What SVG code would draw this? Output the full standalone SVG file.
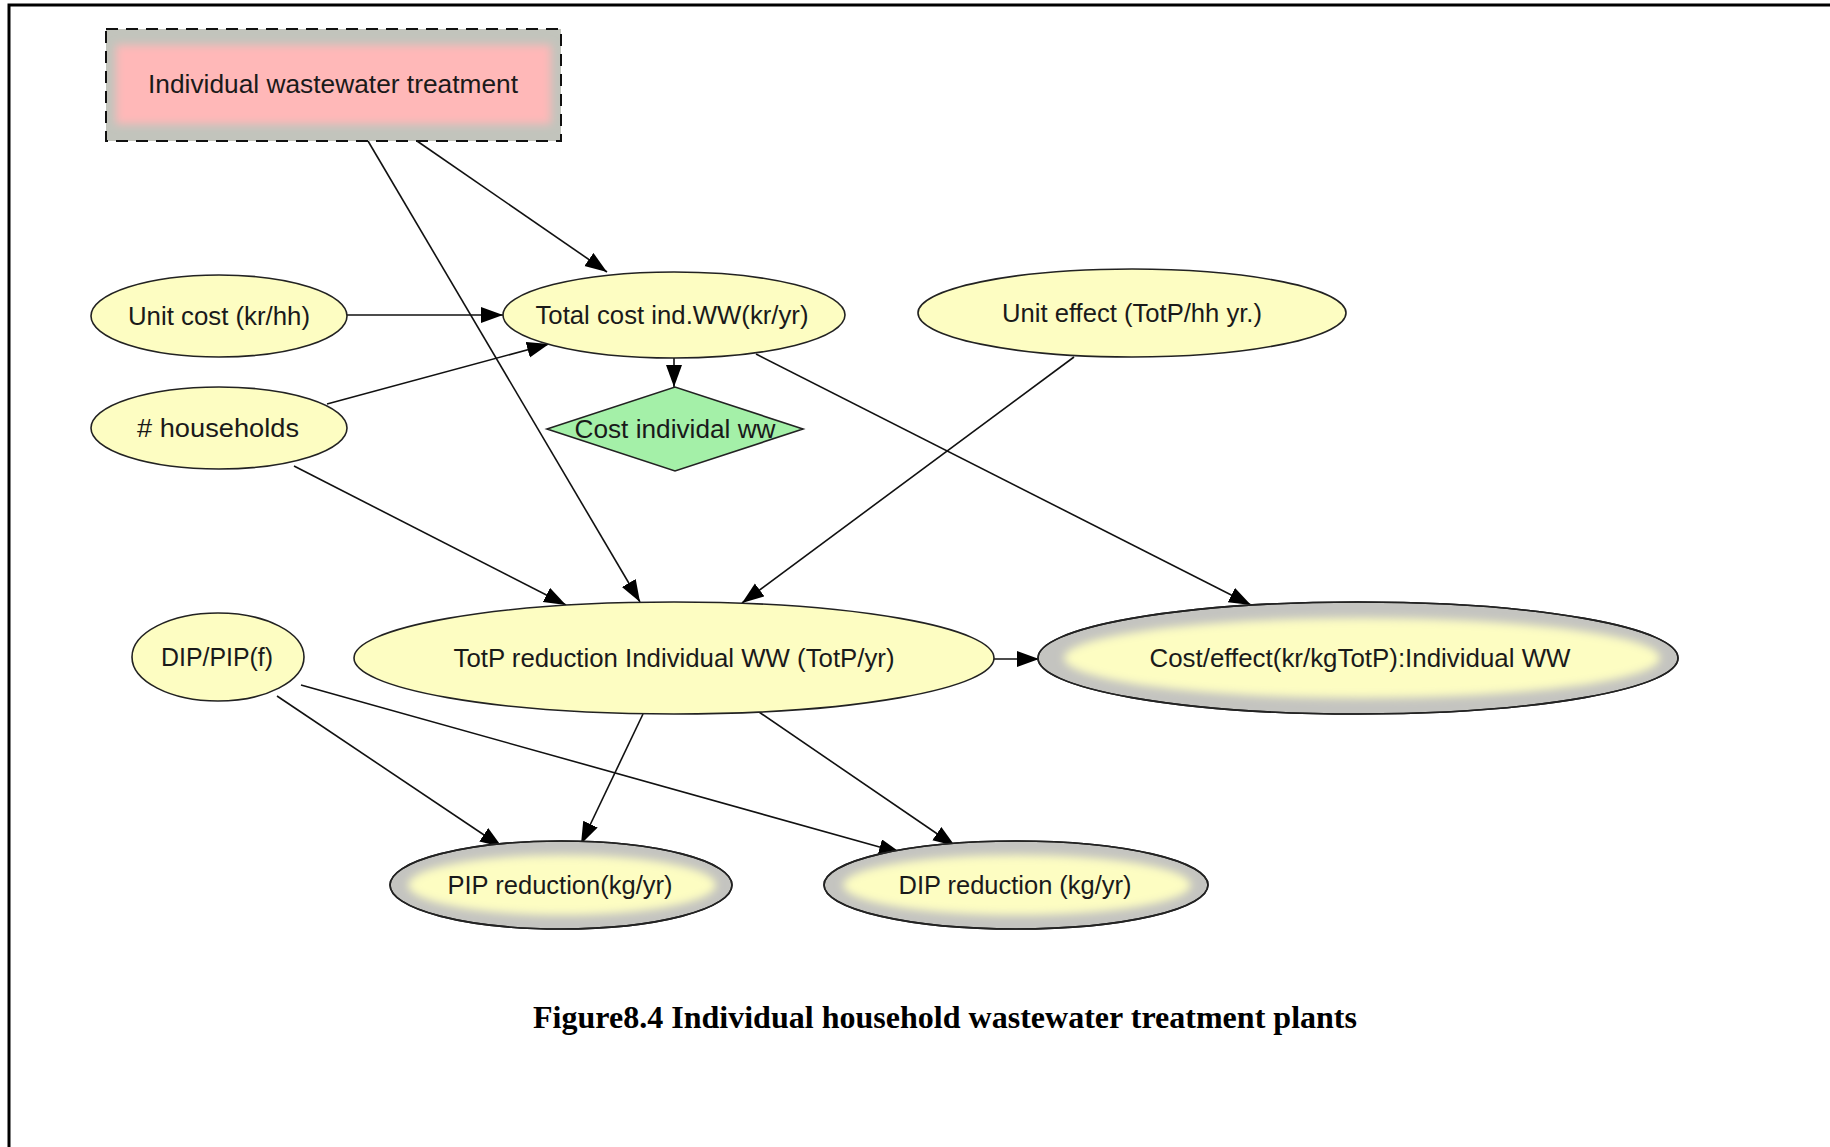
<svg xmlns="http://www.w3.org/2000/svg" width="1830" height="1147" viewBox="0 0 1830 1147">
<style>
.lbl{font-family:"Liberation Sans",Arial,sans-serif;font-size:26px;fill:#1a1a1a;text-anchor:middle}
.cap{font-family:"Liberation Serif","Times New Roman",serif;font-size:32px;font-weight:bold;fill:#000;text-anchor:middle}
.yel{fill:#fdfdc2;stroke:#222;stroke-width:1.6}
.grayo{fill:#c4c4c0;stroke:#222;stroke-width:1.6}
.yin{fill:#fdfdc2;stroke:none}
.edge{stroke:#111;stroke-width:1.6;fill:none;marker-end:url(#ah)}
</style>
<defs>
<marker id="ah" markerUnits="userSpaceOnUse" markerWidth="24" markerHeight="18" refX="22" refY="8" orient="auto">
<path d="M0,0 L22,8 L0,16 z" fill="#000"/>
</marker>
<filter id="soft" x="-10%" y="-30%" width="120%" height="160%"><feGaussianBlur stdDeviation="4"/></filter>
</defs>
<rect x="0" y="0" width="1830" height="1147" fill="#fff"/>
<path d="M9,1147 V5 H1830" fill="none" stroke="#000" stroke-width="3"/>

<g id="connectors">
<line class="edge" x1="417" y1="141" x2="607" y2="272"/>
<line class="edge" x1="368" y1="141" x2="640" y2="602"/>
<line class="edge" x1="347" y1="315" x2="503" y2="315"/>
<line class="edge" x1="327" y1="404" x2="549" y2="344"/>
<line class="edge" x1="674" y1="358" x2="674" y2="387"/>
<line class="edge" x1="756" y1="354" x2="1251" y2="605"/>
<line class="edge" x1="1074" y1="357" x2="742" y2="603"/>
<line class="edge" x1="294" y1="466" x2="566" y2="605"/>
<line class="edge" x1="994" y1="659" x2="1039" y2="659"/>
<line class="edge" x1="277" y1="696" x2="502" y2="847"/>
<line class="edge" x1="301" y1="685" x2="901" y2="853"/>
<line class="edge" x1="643" y1="714" x2="581" y2="844"/>
<line class="edge" x1="759" y1="712" x2="955" y2="846"/>
</g>

<g id="n-iwt">
<rect x="106" y="29" width="455" height="112" fill="#c2c4bc"/>
<rect x="116" y="45" width="435" height="79" fill="#ffb8b8" filter="url(#soft)"/>
<rect x="106" y="29" width="455" height="112" fill="none" stroke="#111" stroke-width="2" stroke-dasharray="12,8"/>
<text class="lbl" x="333" y="93" textLength="370" lengthAdjust="spacingAndGlyphs">Individual wastewater treatment</text>
</g>

<g id="n-unitcost">
<ellipse class="yel" cx="219" cy="316" rx="128" ry="41"/>
<text class="lbl" x="219" y="325" textLength="182" lengthAdjust="spacingAndGlyphs">Unit cost (kr/hh)</text>
</g>

<g id="n-households">
<ellipse class="yel" cx="219" cy="428" rx="128" ry="41"/>
<text class="lbl" x="218" y="437" textLength="162" lengthAdjust="spacingAndGlyphs"># households</text>
</g>

<g id="n-totalcost">
<ellipse class="yel" cx="674" cy="315" rx="171" ry="43"/>
<text class="lbl" x="672" y="324" textLength="273" lengthAdjust="spacingAndGlyphs">Total cost ind.WW(kr/yr)</text>
</g>

<g id="n-costind">
<polygon points="547,429 675,387 803,429 675,471" fill="#a4f0a8" stroke="#222" stroke-width="1.6"/>
<text class="lbl" x="675" y="438" textLength="201" lengthAdjust="spacingAndGlyphs">Cost individal ww</text>
</g>

<g id="n-uniteffect">
<ellipse class="yel" cx="1132" cy="313" rx="214" ry="44"/>
<text class="lbl" x="1132" y="322" textLength="260" lengthAdjust="spacingAndGlyphs">Unit effect (TotP/hh yr.)</text>
</g>

<g id="n-dippip">
<ellipse class="yel" cx="218" cy="657" rx="86" ry="44"/>
<text class="lbl" x="217" y="666" textLength="112" lengthAdjust="spacingAndGlyphs">DIP/PIP(f)</text>
</g>

<g id="n-totp">
<ellipse class="yel" cx="674" cy="658" rx="320" ry="56"/>
<text class="lbl" x="674" y="667" textLength="441" lengthAdjust="spacingAndGlyphs">TotP reduction Individual WW (TotP/yr)</text>
</g>

<g id="n-costeffect">
<ellipse class="grayo" cx="1358" cy="658" rx="320" ry="56"/>
<ellipse class="yin" cx="1362" cy="658" rx="298" ry="40" filter="url(#soft)"/>
<ellipse cx="1358" cy="658" rx="320" ry="56" fill="none" stroke="#222" stroke-width="1.6"/>
<text class="lbl" x="1360" y="667" textLength="421" lengthAdjust="spacingAndGlyphs">Cost/effect(kr/kgTotP):Individual WW</text>
</g>

<g id="n-pip">
<ellipse class="grayo" cx="561" cy="885" rx="171" ry="44"/>
<ellipse class="yin" cx="562" cy="885" rx="154" ry="30" filter="url(#soft)"/>
<ellipse cx="561" cy="885" rx="171" ry="44" fill="none" stroke="#222" stroke-width="1.6"/>
<text class="lbl" x="560" y="894" textLength="225" lengthAdjust="spacingAndGlyphs">PIP reduction(kg/yr)</text>
</g>

<g id="n-dip">
<ellipse class="grayo" cx="1016" cy="885" rx="192" ry="44"/>
<ellipse class="yin" cx="1017" cy="885" rx="174" ry="30" filter="url(#soft)"/>
<ellipse cx="1016" cy="885" rx="192" ry="44" fill="none" stroke="#222" stroke-width="1.6"/>
<text class="lbl" x="1015" y="894" textLength="233" lengthAdjust="spacingAndGlyphs">DIP reduction (kg/yr)</text>
</g>

<text class="cap" x="945" y="1028" textLength="824" lengthAdjust="spacingAndGlyphs">Figure8.4 Individual household wastewater treatment plants</text>
</svg>
